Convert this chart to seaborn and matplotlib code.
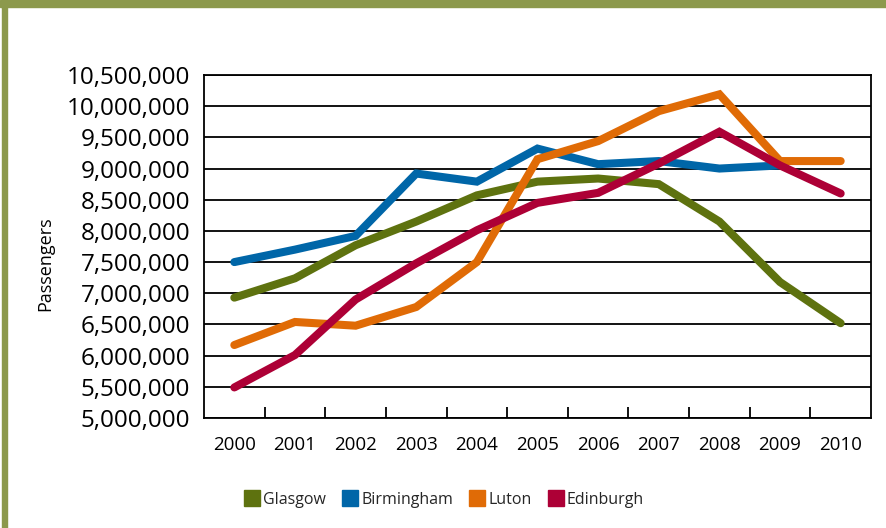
import numpy as np
import pandas as pd
import matplotlib
matplotlib.use("Agg")
import matplotlib.pyplot as plt
import seaborn as sns
from matplotlib.patches import Rectangle
from matplotlib.lines import Line2D
from matplotlib.ticker import FuncFormatter

# ── Data ─────────────────────────────────────────────────────────────────────
years = ["2000", "2001", "2002", "2003", "2004", "2005",
         "2006", "2007", "2008", "2009", "2010"]
glasgow = [6930000, 7240000, 7770000, 8150000, 8570000, 8790000,
           8840000, 8750000, 8150000, 7180000, 6520000]
birmingham = [7500000, 7700000, 7920000, 8920000, 8790000, 9320000,
              9070000, 9120000, 9000000, 9050000, np.nan]
luton = [6170000, 6540000, 6480000, 6780000, 7500000, 9150000,
         9440000, 9920000, 10190000, 9120000, 9120000]
edinburgh = [5490000, 6010000, 6900000, 7480000, 8010000, 8450000,
             8610000, 9080000, 9590000, 9050000, 8600000]
series_names = ["Glasgow", "Birmingham", "Luton", "Edinburgh"]
colors = ["#5e720f", "#0066a8", "#e06b06", "#ad0036"]

BORDER = "#8c994c"

sns.set_theme(style="white")
plt.rcParams["font.family"] = ["Open Sans", "DejaVu Sans"]

rows = []
for name, vals in zip(series_names, [glasgow, birmingham, luton, edinburgh]):
    for i, v in enumerate(vals):
        rows.append({"pos": i, "year": years[i], "series": name, "value": v})
df = pd.DataFrame(rows).dropna()

fig = plt.figure(figsize=(8.87, 5.28), dpi=100)
ax = fig.add_axes([204 / 887, 1 - 418 / 528, 667 / 887, 343 / 528])

sns.lineplot(data=df, x="pos", y="value", hue="series", hue_order=series_names,
             palette=colors, linewidth=5.8, ax=ax, legend=False,
             solid_capstyle="round", solid_joinstyle="miter", sort=False)

ax.set_xlim(-0.5, len(years) - 0.5)
ax.set_ylim(5000000, 10500000)
ax.set_yticks(np.arange(5000000, 10500001, 500000))
ax.yaxis.set_major_formatter(FuncFormatter(lambda v, p: f"{int(v):,}"))
ax.tick_params(axis="y", length=0, labelsize=17.5, pad=10, colors="black")
ax.grid(axis="y", color="black", linewidth=1.3)
ax.set_axisbelow(True)

# category labels at centres, tick marks on the boundaries
ax.set_xticks(range(len(years)))
ax.set_xticklabels(years)
ax.tick_params(axis="x", which="major", length=0, labelsize=13.5, pad=13, colors="black")
ax.set_xticks(np.arange(0.5, len(years) - 0.5, 1), minor=True)
ax.tick_params(axis="x", which="minor", direction="in", length=8, width=1.3,
               color="black", bottom=True)

for s in ax.spines.values():
    s.set_color("black")
    s.set_linewidth(1.3)

ax.set_xlabel("")
ax.set_ylabel("Passengers", fontsize=13, color="black")
ax.yaxis.set_label_coords(-0.225, 0.45)

# legend with square patches
handles = [Line2D([], [], marker="s", linestyle="none", markersize=11,
                  markerfacecolor=c, markeredgecolor=c) for c in colors]
fig.legend(handles, series_names, loc="center", bbox_to_anchor=(444 / 887, 1 - 500 / 528),
           ncol=4, frameon=False, fontsize=11.5, handletextpad=0.2,
           columnspacing=1.0, handlelength=1.0)

# olive frame on top and left
fig.patches.append(Rectangle((0, 1 - 7 / 528), 1, 7 / 528, transform=fig.transFigure,
                             color=BORDER, zorder=0))
fig.patches.append(Rectangle((2 / 887, 0), 5 / 887, 1, transform=fig.transFigure,
                             color=BORDER, zorder=0))

fig.savefig("out.png", dpi=100, facecolor="white")
